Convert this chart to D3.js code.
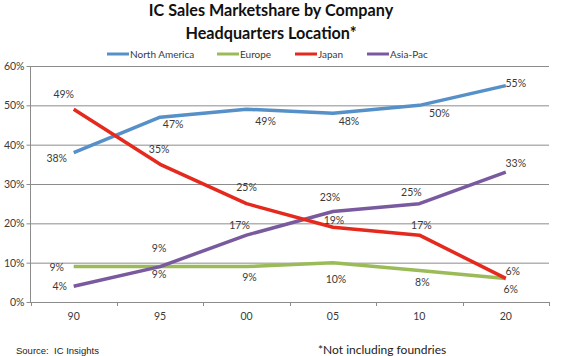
<!DOCTYPE html>
<html>
<head>
<meta charset="utf-8">
<script src="https://cdn.jsdelivr.net/npm/d3@7"></script>
<style>
  html, body { margin: 0; padding: 0; background: #fff; }
  svg { display: block; }
</style>
</head>
<body>
<svg id="chart" width="570" height="356"></svg>
<script>
// ---- data ----
const categories = ["90", "95", "00", "05", "10", "20"];
const seriesNames = ["North America", "Europe", "Japan", "Asia-Pac"];
const northAmerica = [38, 47, 49, 48, 50, 55];
const europe = [9, 9, 9, 10, 8, 6];
const japan = [49, 35, 25, 19, 17, 6];
const asiaPac = [4, 9, 17, 23, 25, 33];
const yTicks = [0, 10, 20, 30, 40, 50, 60];

// ---- styling / layout ----
const colors = ["#5590C8", "#9BBB59", "#E5291C", "#7A5A9E"];
// label offsets (dx, dy) relative to each point, per series
const labelOffsets = [
  [[-17, 6], [13, 7], [19, 12], [16, 8], [20, 8], [10, -2]],
  [[-17, 1], [-1, 8], [3, 11], [3, 17], [3, 12], [5, 11]],
  [[-10, -15], [-1, -15], [0, -16], [1, -7], [2, -10], [7, -7]],
  [[-14, 0], [-1, -18], [-7, -10], [-3, -14], [-8, -11], [10, -9]]
];
const legendX = [107, 217, 295, 367];

(function () {
const seriesValues = [northAmerica, europe, japan, asiaPac];
const svg = d3.select("#chart");
const pLeft = 30.5, pRight = 549, pTop = 66, pBottom = 302;
const font = "Lato, 'Open Sans', sans-serif";
const textColor = "#3a3a3a";
const gridColor = "#8c8c8c";

const x = d3.scaleBand().domain(categories).range([pLeft, pRight]);
const y = d3.scaleLinear().domain([0, 60]).range([pBottom, pTop]);

// Title
const title = svg.append("text")
  .attr("text-anchor", "middle")
  .style("font-family", font).style("font-weight", "bold")
  .style("font-size", "16.2px").attr("fill", "#111");
title.append("tspan").attr("x", 271).attr("y", 16).text("IC Sales Marketshare by Company");
title.append("tspan").attr("x", 271).attr("y", 39).text("Headquarters Location*");

// Legend
const legend = svg.append("g");
seriesNames.forEach((name, i) => {
  legend.append("line")
    .attr("x1", legendX[i]).attr("x2", legendX[i] + 22)
    .attr("y1", 54).attr("y2", 54)
    .attr("stroke", colors[i]).attr("stroke-width", 3);
  legend.append("text")
    .attr("x", legendX[i] + 23).attr("y", 54).attr("dy", "0.35em")
    .style("font-family", font).style("font-size", "10px")
    .attr("fill", textColor).text(name);
});

// Y gridlines + axis
const yAxis = d3.axisLeft(y).tickValues(yTicks).tickSize(-(pRight - pLeft))
  .tickFormat(d => d + "%").tickPadding(6);
const gy = svg.append("g").attr("transform", `translate(${pLeft},0)`).call(yAxis);
gy.select(".domain").remove();
gy.selectAll(".tick line").attr("stroke", gridColor).attr("x1", -4);
gy.selectAll(".tick text").attr("fill", textColor)
  .style("font-family", font).style("font-size", "10.5px");
svg.append("line").attr("x1", pLeft).attr("x2", pLeft).attr("y1", pTop).attr("y2", pBottom)
  .attr("stroke", gridColor);

// X axis
const xAxis = d3.axisBottom(x).tickSize(0).tickPadding(11);
const gx = svg.append("g").attr("transform", `translate(0,${pBottom})`).call(xAxis);
gx.select(".domain").attr("stroke", gridColor);
gx.selectAll(".tick text").attr("fill", textColor)
  .style("font-family", font).style("font-size", "10.5px");
// band boundary tick marks
const bounds = categories.map(c => x(c)).concat([pRight]);
svg.append("g").selectAll("line").data(bounds).join("line")
  .attr("x1", d => Math.round(d) + 0.5).attr("x2", d => Math.round(d) + 0.5)
  .attr("y1", pBottom).attr("y2", pBottom + 4)
  .attr("stroke", gridColor);

// Lines
const cx = c => x(c) + x.bandwidth() / 2;
const line = d3.line().x((d, i) => cx(categories[i])).y(d => y(d));
const drawOrder = [0, 1, 3, 2];
drawOrder.forEach(si => {
  svg.append("path").datum(seriesValues[si])
    .attr("d", line).attr("fill", "none")
    .attr("stroke", colors[si]).attr("stroke-width", 3.5)
    .attr("stroke-linejoin", "round");
});

// Data labels
seriesValues.forEach((vals, si) => {
  svg.append("g").selectAll("text").data(vals).join("text")
    .attr("x", (d, i) => cx(categories[i]) + labelOffsets[si][i][0])
    .attr("y", (d, i) => y(d) + labelOffsets[si][i][1])
    .attr("dy", "0.35em").attr("text-anchor", "middle")
    .style("font-family", font).style("font-size", "10.5px")
    .attr("fill", textColor).text(d => d + "%");
});

// Footer
svg.append("text").attr("x", 16).attr("y", 351).attr("dy", "0.35em")
  .style("font-family", "'Liberation Sans', Arial, sans-serif").style("font-size", "9.5px")
  .style("white-space", "pre")
  .attr("fill", "#222").text("Source:  IC Insights");
svg.append("text").attr("x", 318).attr("y", 350).attr("dy", "0.35em")
  .style("font-family", font).style("font-size", "12px")
  .attr("fill", "#222").text("*Not including foundries");
})();
</script>
</body>
</html>
